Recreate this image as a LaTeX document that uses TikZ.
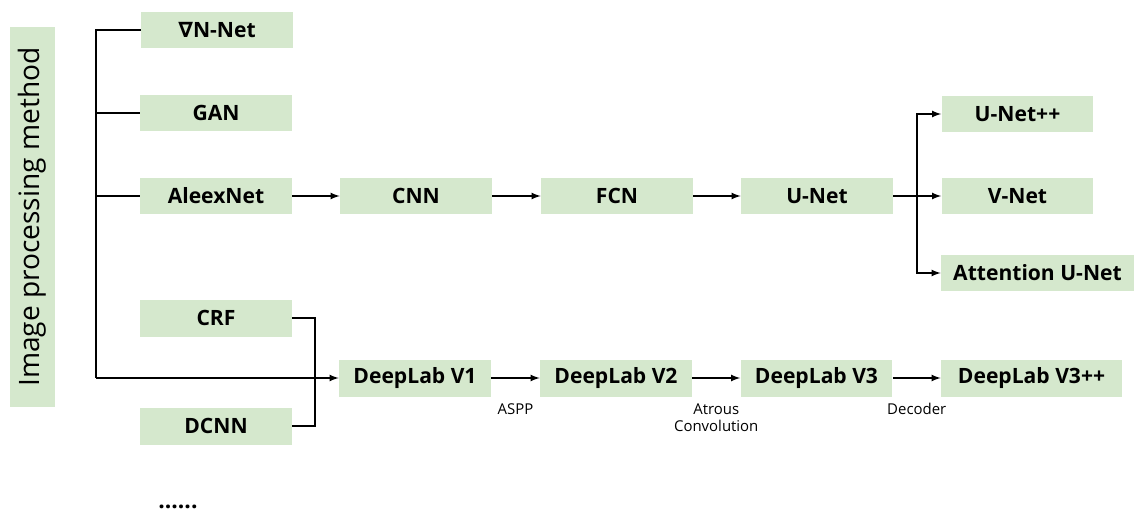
\documentclass[tikz,border=0pt]{standalone}
\usepackage{fontspec}
\setmainfont{Open Sans}
\newfontfamily\nablafont{DejaVu Sans}
\definecolor{boxgreen}{RGB}{213,232,205}

\begin{document}
\begin{tikzpicture}[x=0.02cm, y=-0.02cm, >=latex,
	netbox/.style={fill=boxgreen, minimum width=3.04cm, minimum height=0.74cm, inner sep=0pt,
		font=\bfseries\fontsize{12}{14}\selectfont},
	note/.style={font=\fontsize{8.5}{10}\selectfont, align=center, inner sep=1pt}]
\useasboundingbox (0,0) rectangle (1134,514);

% title
\node[fill=boxgreen, rotate=90, minimum width=7.6cm, minimum height=0.9cm, inner sep=0pt,
	font=\fontsize{16}{18}\selectfont] (title) at (32.5,217) {Image processing method};

% first column
\node[netbox] (nabla) at (217,30) {{\nablafont\bfseries ∇}N-Net};
\node[netbox] (gan) at (216,113) {GAN};
\node[netbox] (alex) at (216,196) {AleexNet};
\node[netbox] (crf) at (216,318) {CRF};
\node[netbox] (dcnn) at (216,426) {DCNN};

% middle row
\node[netbox] (cnn) at (416,196) {CNN};
\node[netbox] (fcn) at (617,196) {FCN};
\node[netbox] (unet) at (817,196) {U-Net};
\node[netbox] (unetpp) at (1017.5,114) {U-Net++};
\node[netbox] (vnet) at (1017.5,196) {V-Net};
\node[netbox, minimum width=3.86cm] (attn) at (1037.5,273) {Attention U-Net};

% deeplab row
\node[netbox] (dl1) at (415,378) {DeepLab V1};
\node[netbox] (dl2) at (616,378) {DeepLab V2};
\node[netbox] (dl3) at (816.5,378) {DeepLab V3};
\node[netbox, minimum width=3.62cm] (dl3pp) at (1031.5,378) {DeepLab V3++};

\node[font=\bfseries\fontsize{13}{15}\selectfont] (dots) at (178,507) {......};

% trunk
\coordinate (top) at (96,30);
\coordinate (bot) at (96,378);
\draw[thick] (nabla.west) -- (top) -- (bot);
\draw[thick] (gan.west) -- (gan.west -| top);
\draw[thick] (alex.west) -- (alex.west -| top);
\draw[->, thick] (bot) -- (dl1.west);

% crf + dcnn bracket
\coordinate (brk) at (315,0);
\draw[thick] (crf.east) -- (crf.east -| brk) -- (dcnn.east -| brk) -- (dcnn.east);

% chain
\draw[->, thick] (alex) -- (cnn);
\draw[->, thick] (cnn) -- (fcn);
\draw[->, thick] (fcn) -- (unet);
\draw[->, thick] (dl1) -- node[note, below=0.46cm] {ASPP} (dl2);
\draw[->, thick] (dl2) -- node[note, below=0.46cm] {Atrous\\Convolution} (dl3);
\draw[->, thick] (dl3) -- node[note, below=0.46cm] {Decoder} (dl3pp);

% fork
\coordinate (fork) at (917,0);
\draw[->, thick] (unet) -- (vnet);
\draw[->, thick] (unet.east -| fork) |- (unetpp.west);
\draw[->, thick] (unet.east -| fork) |- (attn.west);

\end{tikzpicture}
\end{document}
